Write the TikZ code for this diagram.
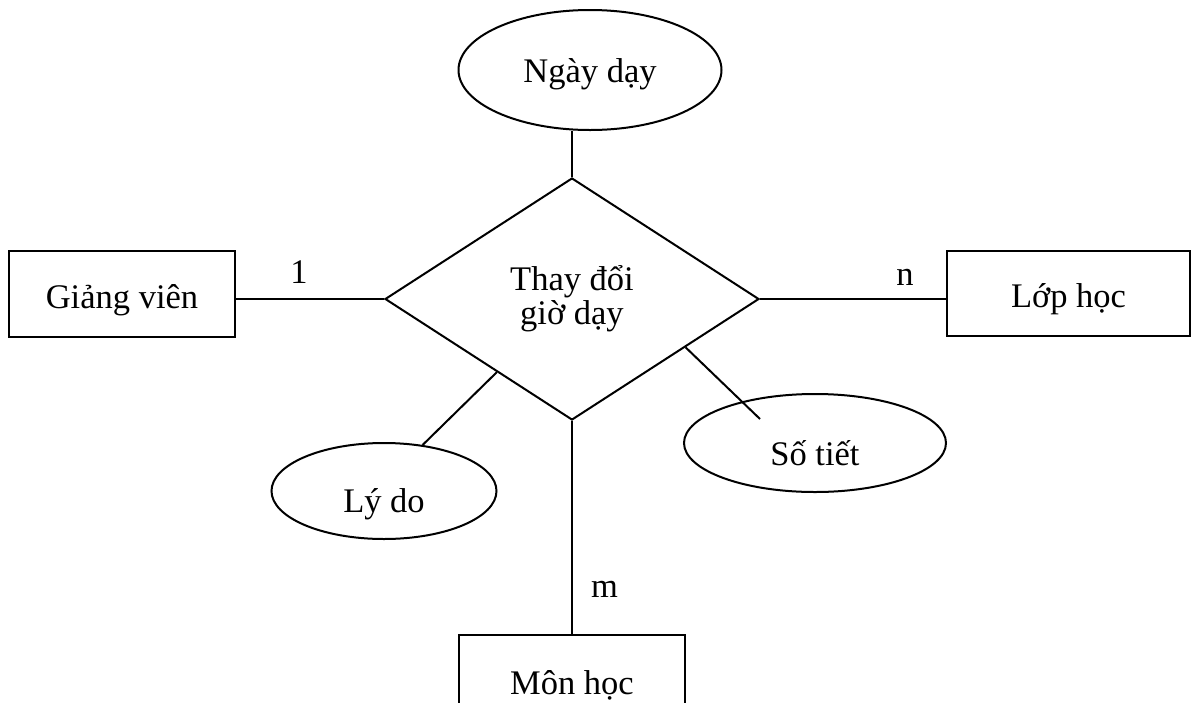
\documentclass[tikz,border=0pt]{standalone}
\usepackage{fontspec}
\setmainfont{Liberation Serif}
\usetikzlibrary{shapes.geometric,calc}
\begin{document}
\begin{tikzpicture}[x=1pt,y=-1pt,
  line width=2pt,
  every node/.style={font=\fontsize{34.5}{34}\selectfont, inner sep=0pt},
  entity/.style={draw, rectangle, text height=28pt, text depth=0pt},
  attrib/.style={draw, ellipse, text depth=0pt},
  rel/.style={draw, diamond, align=center},
  card/.style={anchor=base}]
\useasboundingbox (0,0) rectangle (1192,702);

% relationship
\node[rel, minimum width=374pt, minimum height=242pt, aspect=1.545] (rel) at (572,299) {Thay đổi\\giờ dạy};

% entities
\node[entity, minimum width=226pt, minimum height=86pt] (gv) at (122,294) {Giảng viên};
\node[entity, minimum width=243pt, minimum height=85pt] (lh) at (1068.5,293.5) {Lớp học};
\node[entity, minimum width=226pt, minimum height=90pt] (mh) at (572,680) {Môn học};

% attributes
\node[attrib, minimum width=263pt, minimum height=120pt, text height=24pt] (nd) at (590,70) {Ngày dạy};
\node[attrib, minimum width=225pt, minimum height=96pt, text height=42pt] (ly) at (384,491) {Lý do};
\node[attrib, minimum width=262pt, minimum height=98pt, text height=44pt] (st) at (815,443) {Số tiết};

% cardinalities
\node[card] (c1) at (299,283) {1};
\node[card] (cn) at (905,285) {n};
\node[card] (cm) at (604.5,597) {m};

% connectors
\draw (rel.west -| gv.east) -- (rel.west);
\draw (rel.east) -- (rel.east -| lh.west);
\draw (rel.south) -- (mh.north);
\draw (rel.north) -- (rel.north |- nd.south);

\coordinate (lyA) at ($(rel.west)!0.6!(rel.south)$);
\draw (lyA) -- (ly.50);

\coordinate (stA) at ($(rel.east)!0.396!(rel.south)$);
\coordinate (stB) at ($(st.center)+(-55,-24)$);
\draw (stA) -- (stB);
\end{tikzpicture}
\end{document}
